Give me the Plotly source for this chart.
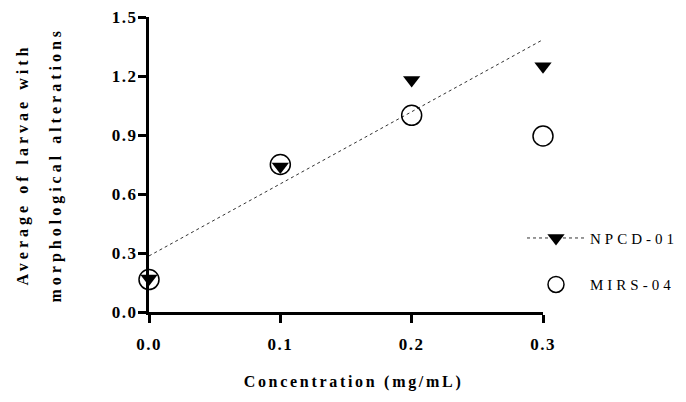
import plotly.graph_objects as go

conc = [0.0, 0.1, 0.2, 0.3]
npcd01 = [0.17, 0.74, 1.18, 1.25]
mirs04 = [0.165, 0.75, 1.0, 0.895]
trend_x = [0.0, 0.3]
trend_y = [0.285, 1.385]
x_ticks = [0.0, 0.1, 0.2, 0.3]
y_ticks = [0.0, 0.3, 0.6, 0.9, 1.2, 1.5]
y_title_lines = ["Average of larvae with", "morphological alterations"]
x_title = "Concentration (mg/mL)"

FONT = "Liberation Serif"
L, R, T, B = 149, 143, 17, 90
PW = 686 - L - R

fig = go.Figure()
fig.add_trace(go.Scatter(x=trend_x, y=trend_y, mode="lines",
                         line=dict(color="#333333", width=1, dash="dot"),
                         showlegend=False, hoverinfo="skip"))
fig.add_trace(go.Scatter(x=conc, y=mirs04, mode="markers", name="MIRS-04",
                         marker=dict(symbol="circle-open", size=20, color="black",
                                     line=dict(width=1.5, color="black")),
                         cliponaxis=False, showlegend=False))
fig.add_trace(go.Scatter(x=conc, y=npcd01, mode="markers", name="NPCD-01",
                         marker=dict(symbol="triangle-down", size=15, color="black"),
                         cliponaxis=False, showlegend=False))
# legend entries
fig.add_trace(go.Scatter(x=[None], y=[None], mode="lines+markers", name="NPCD-01",
                         line=dict(color="#333333", width=1, dash="dot"),
                         marker=dict(symbol="triangle-down", size=15, color="black"),
                         legendgroup="a"))
fig.add_trace(go.Scatter(x=[None], y=[None], mode="markers", name="MIRS-04",
                         marker=dict(symbol="circle-open", size=18, color="black",
                                     line=dict(width=1.5, color="black")),
                         legendgroup="b"))

axis_common = dict(showline=True, linecolor="black", linewidth=3, ticks="outside",
                   ticklen=8, tickwidth=3, tickcolor="black", showgrid=False,
                   zeroline=False, automargin=False,
                   tickfont=dict(family=FONT, size=17, color="black", weight="bold"))

title_font = dict(family=FONT, size=16, color="black", weight="bold")

fig.update_layout(
    width=686, height=402,
    margin=dict(l=L, r=R, t=T, b=B),
    plot_bgcolor="white", paper_bgcolor="white",
    xaxis=dict(range=[0, 0.3], tickvals=x_ticks, tickformat=".1f",
               ticklabelstandoff=7, **axis_common),
    yaxis=dict(range=[0, 1.5], tickvals=y_ticks, tickformat=".1f",
               ticklabelstandoff=-3, **axis_common),
    legend=dict(x=(522 - L) / PW, y=0.306, xanchor="left", yanchor="top",
                font=dict(family=FONT, size=15, color="black"), itemwidth=58,
                tracegroupgap=24, bgcolor="rgba(0,0,0,0)"),
    annotations=[
        dict(text=y_title_lines[0], textangle=-90, xref="paper", yref="paper",
             x=(22 - L) / PW, y=0.5, xanchor="center", yanchor="middle",
             showarrow=False, font=title_font),
        dict(text=y_title_lines[1], textangle=-90, xref="paper", yref="paper",
             x=(55 - L) / PW, y=0.5, xanchor="center", yanchor="middle",
             showarrow=False, font=title_font),
        dict(text=x_title, xref="paper", yref="paper",
             x=(353 - L) / PW, y=-(382 - (402 - B)) / (402 - T - B), xanchor="center", yanchor="middle",
             showarrow=False, font=title_font),
    ],
)

post = """
document.body.style.margin = '0';
var s = document.createElement('style');
s.innerHTML = '.annotation-text{letter-spacing:4px} .legendtext{letter-spacing:4px} .xtick text, .ytick text{letter-spacing:1.5px} .legend .scrollbox{clip-path:none !important}';
document.head.appendChild(s);
document.querySelectorAll('.annotation-text').forEach(function(t){
  if (t.textContent.indexOf('Concentration') === 0) { t.style.letterSpacing = '2.7px'; }
});
"""
fig.write_html("out.html", post_script=post, config={"displayModeBar": False})
